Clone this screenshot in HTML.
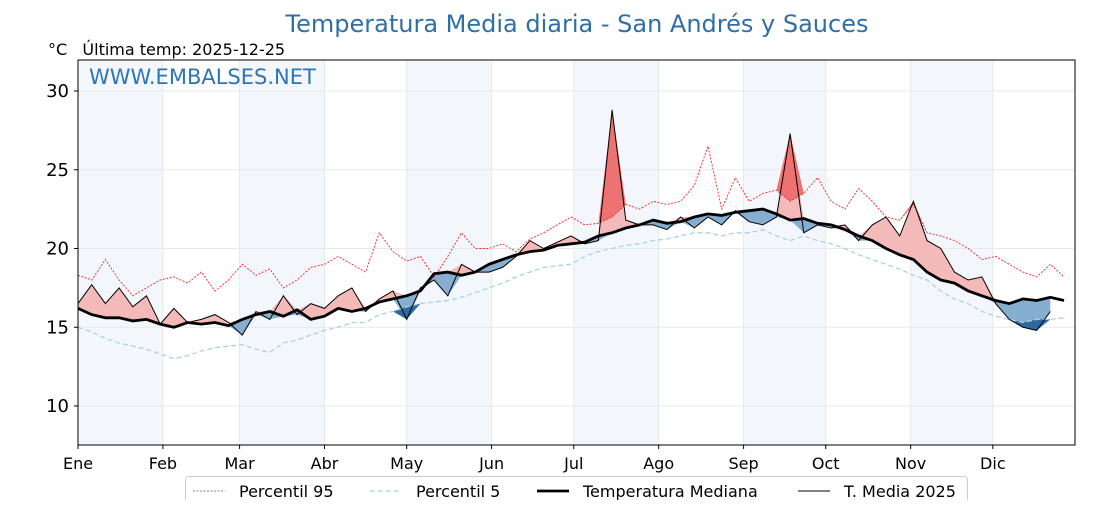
<!DOCTYPE html>
<html><head><meta charset="utf-8">
<style>
body{margin:0;background:#fff;font-family:"Liberation Sans","DejaVu Sans",sans-serif;}
svg text{font-family:"DejaVu Sans","Liberation Sans",sans-serif;}
</style></head>
<body>
<svg id="chart" width="1120" height="500" viewBox="0 0 1120 500">
<text x="577" y="32" text-anchor="middle" font-size="24" fill="#2f6fa5">Temperatura Media diaria - San Andrés y Sauces</text>
<text x="48" y="55" font-size="16" fill="#000">°C&#160;&#160;&#160;Última temp: 2025-12-25</text>
<g id="plot"></g>
</svg>
<script>
const monthLabels=["Ene","Feb","Mar","Abr","May","Jun","Jul","Ago","Sep","Oct","Nov","Dic"];
const monthStarts=[0,31,59,90,120,151,181,212,243,273,304,334];
const yTicks=[10,15,20,25,30];
const step=5;
const median=[16.2,15.8,15.6,15.6,15.4,15.5,15.2,15.0,15.3,15.2,15.3,15.1,15.5,15.8,16.0,15.7,16.1,15.5,15.7,16.2,16.0,16.2,16.6,16.8,17.0,17.3,18.4,18.5,18.3,18.5,19.0,19.3,19.6,19.8,19.9,20.2,20.3,20.4,20.8,21.0,21.3,21.5,21.8,21.6,21.7,22.0,22.2,22.1,22.3,22.4,22.5,22.2,21.8,21.9,21.6,21.5,21.2,20.8,20.5,20.0,19.6,19.3,18.5,18.0,17.8,17.3,17.0,16.7,16.5,16.8,16.7,16.9,16.7];
const p95=[18.3,18.0,19.3,18.0,17.0,17.5,18.0,18.2,17.8,18.5,17.3,18.0,19.0,18.3,18.7,17.5,18.0,18.8,19.0,19.5,19.0,18.5,21.0,19.8,19.2,19.5,18.2,19.5,21.0,20.0,20.0,20.3,19.8,20.6,21.0,21.5,22.0,21.5,21.6,22.0,22.8,22.5,23.0,22.8,23.0,24.0,26.5,22.5,24.5,23.0,23.5,23.7,23.0,23.5,24.5,23.0,22.5,23.8,23.0,22.0,21.8,22.8,21.0,20.8,20.5,20.0,19.3,19.5,19.0,18.5,18.2,19.0,18.2];
const p5=[15.0,14.7,14.3,14.0,13.8,13.6,13.3,13.0,13.2,13.5,13.7,13.8,13.9,13.6,13.4,14.0,14.2,14.5,14.8,15.0,15.3,15.3,15.8,16.0,16.3,16.5,16.6,16.7,16.9,17.2,17.5,17.8,18.2,18.5,18.8,18.9,19.0,19.5,19.8,20.0,20.2,20.3,20.5,20.6,20.8,21.0,21.0,20.8,21.0,21.0,21.2,20.8,20.5,20.8,20.5,20.3,20.0,19.6,19.3,19.0,18.7,18.3,18.0,17.3,16.8,16.5,16.0,15.7,15.5,15.3,15.5,15.5,15.6];
const t2025=[16.5,17.7,16.5,17.5,16.3,17.0,15.2,16.2,15.3,15.5,15.8,15.3,14.5,16.0,15.5,17.0,15.8,16.5,16.2,17.0,17.5,16.0,16.8,17.3,15.5,17.5,18.0,17.0,19.0,18.5,18.5,18.8,19.5,20.5,20.0,20.4,20.8,20.3,20.5,28.8,21.8,21.5,21.5,21.2,22.0,21.3,22.0,21.5,22.4,21.7,21.5,22.0,27.3,21.0,21.5,21.3,21.5,20.5,21.5,22.0,20.8,23.0,20.5,20.0,18.5,18.0,18.2,16.5,15.5,15.0,14.8,16.0];

const X0=78,X1=1075,Y0=60,Y1=445;
const xs=d=>X0+d*(X1-X0)/364;
const ys=v=>406-(v-10)*15.75;
const NS="http://www.w3.org/2000/svg";
const plot=document.getElementById('plot');
function mk(tag,attrs,parent){const e=document.createElementNS(NS,tag);for(const k in attrs)e.setAttribute(k,attrs[k]);(parent||plot).appendChild(e);return e;}

for(let i=0;i<12;i+=2){
  const e=mk('rect',{x:xs(monthStarts[i]),y:Y0,width:xs(monthStarts[i+1])-xs(monthStarts[i]),height:Y1-Y0,fill:'#f3f7fc'});
  
  
}
yTicks.forEach(v=>{
  const e=mk('line',{x1:X0,x2:X1,y1:ys(v),y2:ys(v),stroke:'#e6e9ec','stroke-width':1});
  
  
});
monthStarts.forEach(d=>{
  const e=mk('line',{x1:xs(d),x2:xs(d),y1:Y0,y2:Y1,stroke:'#e6e9ec','stroke-width':1});
  
  
});
const pts=(arr)=>arr.map((v,i)=>xs(i*step).toFixed(1)+','+ys(v).toFixed(1));
function band(upperFn,lowerArr,fill,name){
  const n=t2025.length;
  const up=[],lo=[];
  for(let i=0;i<n;i++){up.push(xs(i*step).toFixed(1)+','+ys(upperFn(i)).toFixed(1));lo.push(xs(i*step).toFixed(1)+','+ys(lowerArr[i]).toFixed(1));}
  const e=mk('polygon',{points:up.concat(lo.reverse()).join(' '),fill:fill});
  
  
}
band(i=>Math.max(t2025[i],median[i]),median,'#f4b9b9','above-median-fill');
band(i=>Math.min(t2025[i],median[i]),median,'#85aed0','below-median-fill');
band(i=>Math.max(t2025[i],p95[i]),p95,'#ee7272','above-p95-fill');
band(i=>Math.min(t2025[i],p5[i]),p5,'#2e6aa0','below-p5-fill');

let e;
e=mk('polyline',{points:pts(p95).join(' '),fill:'none',stroke:'#ff2020','stroke-width':0.9,'stroke-dasharray':'2,1.5'});


e=mk('polyline',{points:pts(p5).join(' '),fill:'none',stroke:'#a8d3e3','stroke-width':1.3,'stroke-dasharray':'5,3'});


e=mk('polyline',{points:pts(median).join(' '),fill:'none',stroke:'#000','stroke-width':2.8});


e=mk('polyline',{points:pts(t2025).join(' '),fill:'none',stroke:'#000','stroke-width':1});



e=mk('rect',{x:X0,y:Y0,width:X1-X0,height:Y1-Y0,fill:'none',stroke:'#000','stroke-width':1});



yTicks.forEach(v=>{
  const l=mk('line',{x1:X0-4,x2:X0,y1:ys(v),y2:ys(v),stroke:'#000'});
  
  
  const t=mk('text',{x:X0-9,y:ys(v)+6,'text-anchor':'end','font-size':18});
  t.textContent=v;
  
  
});
monthStarts.forEach((d,i)=>{
  const l=mk('line',{x1:xs(d),x2:xs(d),y1:Y1,y2:Y1+4,stroke:'#000'});
  
  
  const t=mk('text',{x:xs(d),y:469,'text-anchor':'middle','font-size':16});
  t.textContent=monthLabels[i];
  
  
});
e=mk('text',{x:89,y:84,'font-size':21,fill:'#2e75b6'});
e.textContent='WWW.EMBALSES.NET';



const lg=mk('g',{});


mk('rect',{x:185.5,y:476.5,width:782,height:30,rx:3,fill:'#fff',stroke:'#ccc'},lg);
const items=[["Percentil 95",193,'#555','0.8','2,1.5'],["Percentil 5",370,'#a8d3e3','1.3','5,3'],["Temperatura Mediana",537,'#000','2.8',''],["T. Media 2025",798,'#000','1','']];
items.forEach(it=>{
  const g=mk('g',{},lg);
  
  
  mk('line',{x1:it[1],x2:it[1]+32,y1:491,y2:491,stroke:it[2],'stroke-width':it[3],'stroke-dasharray':it[4]},g);
  const t=mk('text',{x:it[1]+46,y:497,'font-size':16},g);
  t.textContent=it[0];
});
</script>
</body></html>
